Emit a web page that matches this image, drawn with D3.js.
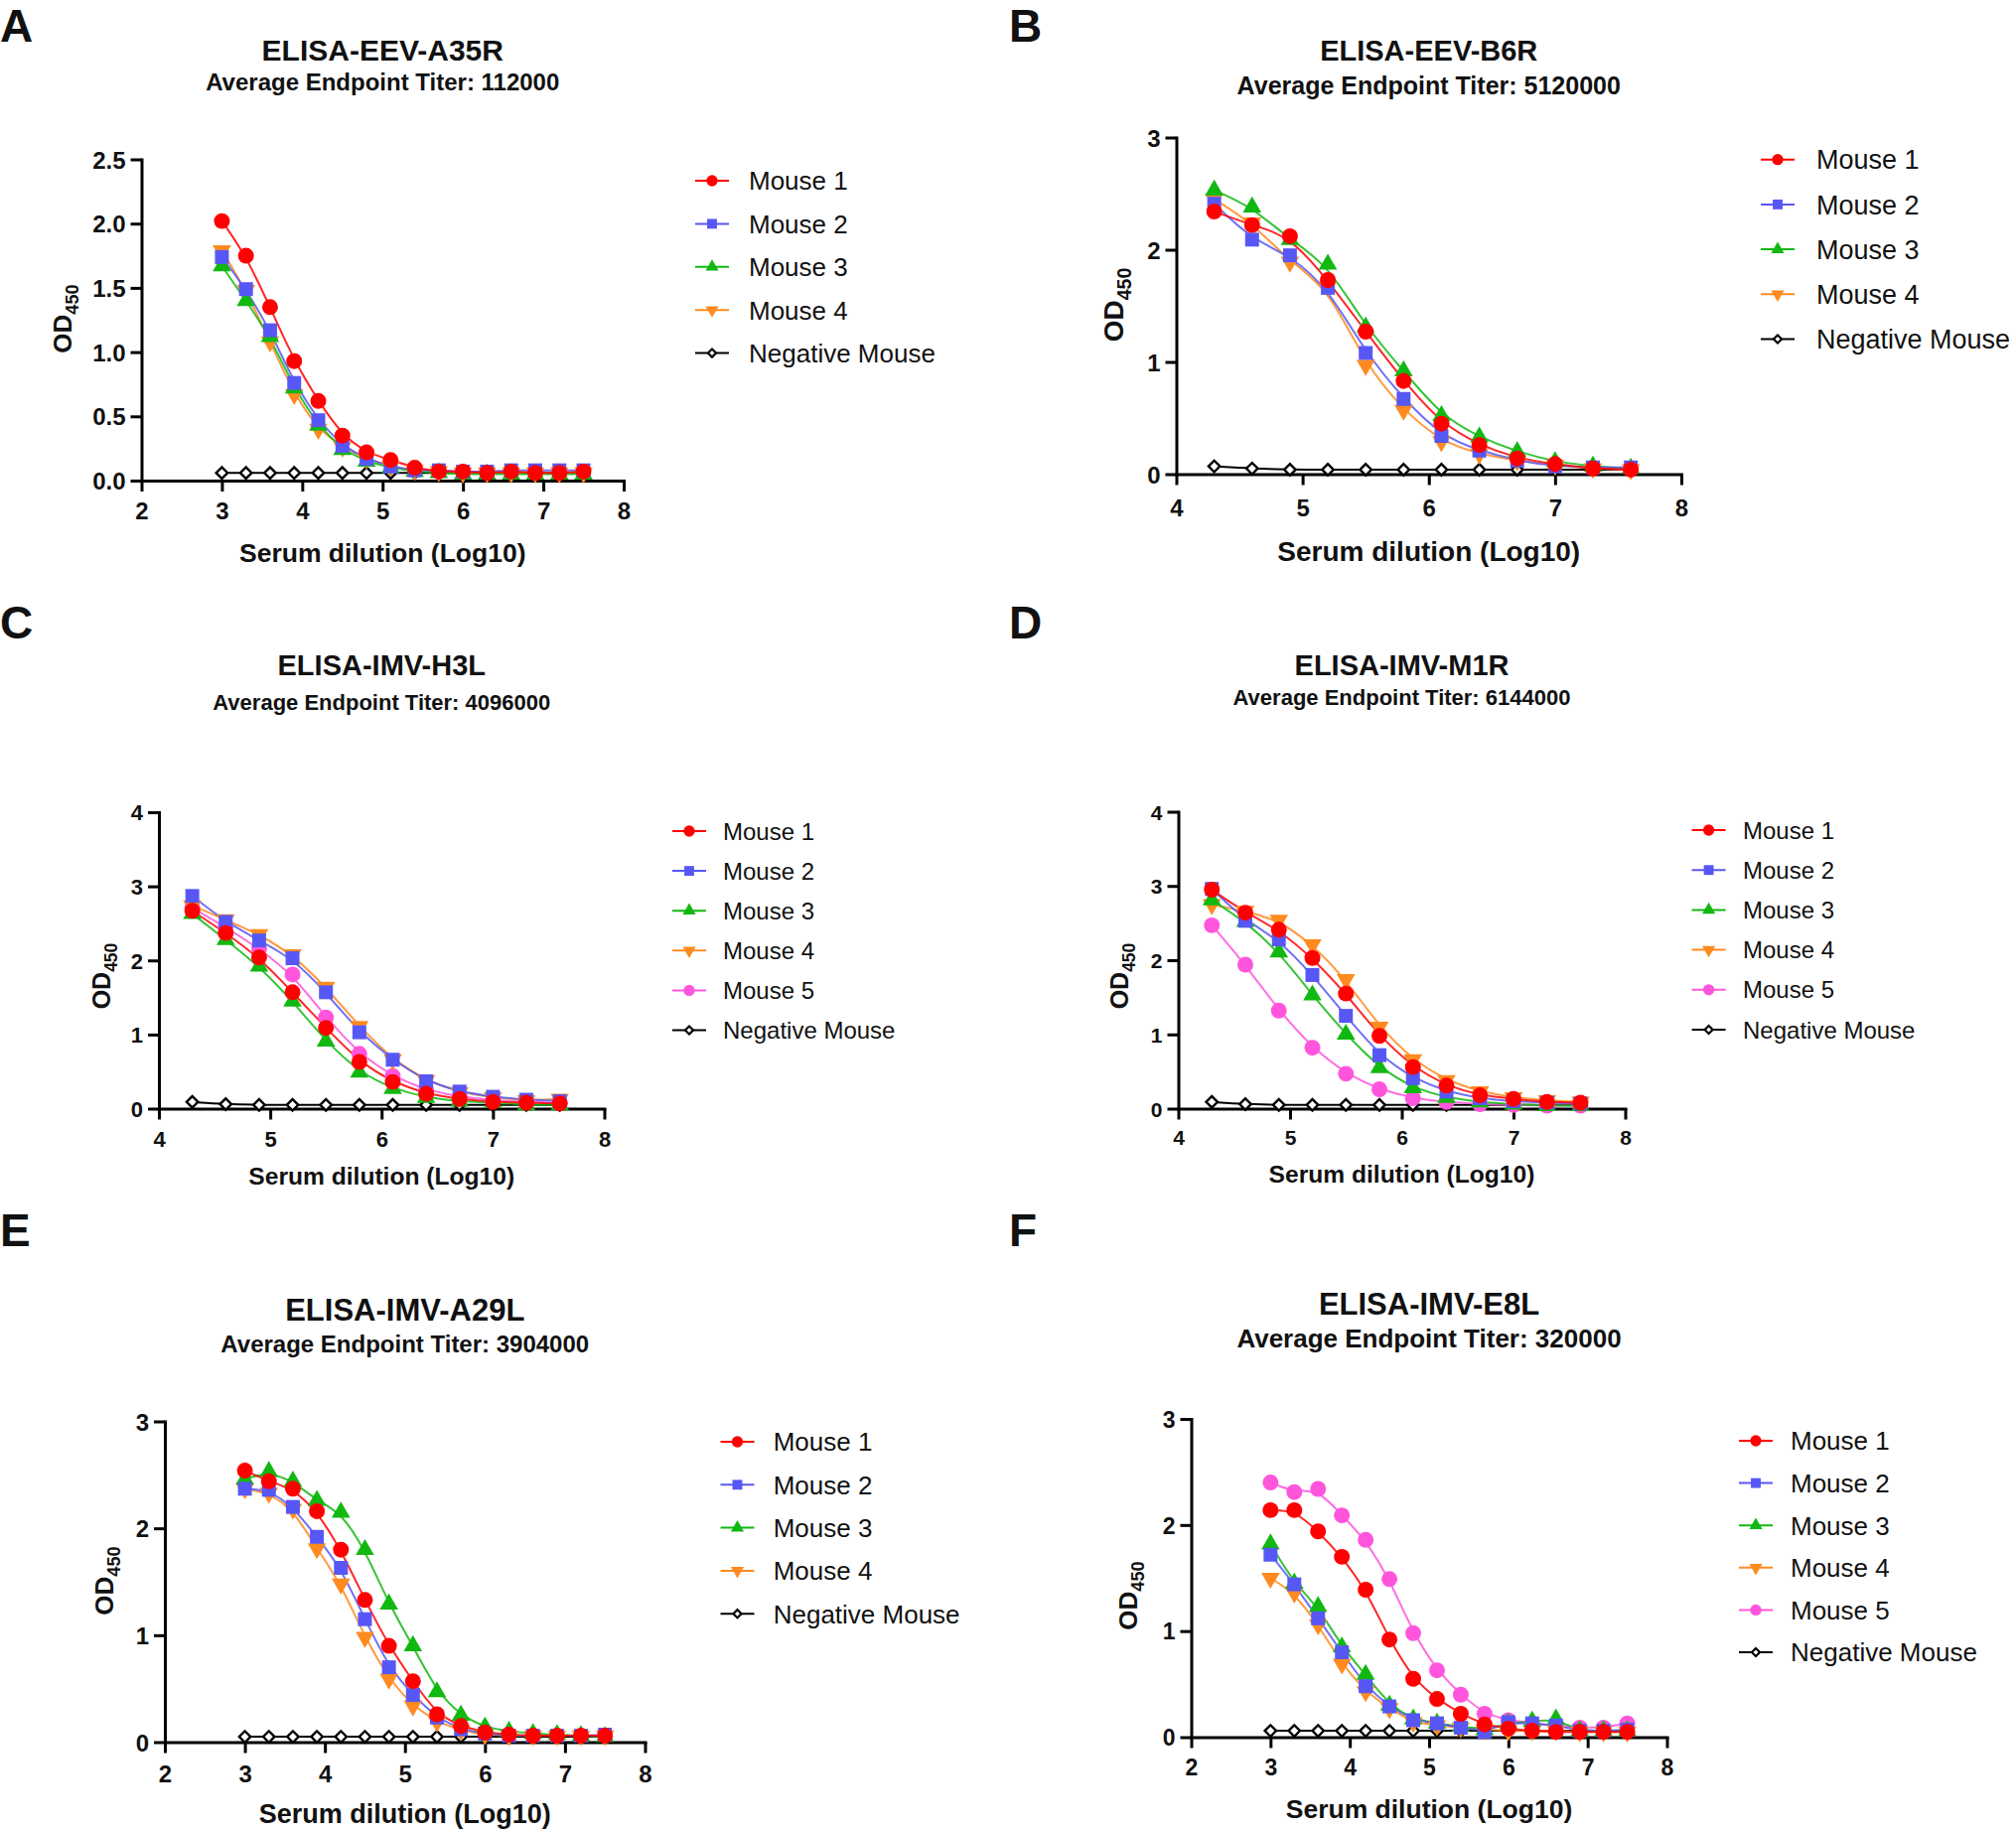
<!DOCTYPE html>
<html>
<head>
<meta charset="utf-8">
<script src="https://cdn.jsdelivr.net/npm/d3@7"></script>
<style>
  body { margin: 0; background: #fff; }
  svg { display: block; }
  text { font-family: "Liberation Sans", Arial, sans-serif; fill: #111; }
</style>
</head>
<body>
<svg id="chart"></svg>
<script>
/* data: serum dilution (log10) and OD450 per mouse */
const dilA = [3.0, 3.3, 3.6, 3.9, 4.2, 4.5, 4.8, 5.1, 5.4, 5.7, 6.0, 6.3, 6.6, 6.9, 7.2, 7.5];
const dilB = [4.3, 4.6, 4.9, 5.2, 5.5, 5.8, 6.1, 6.4, 6.7, 7.0, 7.3, 7.6];

const a35rM1 = [2.02, 1.75, 1.35, 0.93, 0.62, 0.35, 0.22, 0.16, 0.10, 0.07, 0.07, 0.06, 0.07, 0.06, 0.06, 0.07];
const a35rM2 = [1.74, 1.49, 1.17, 0.76, 0.47, 0.27, 0.17, 0.11, 0.08, 0.08, 0.07, 0.07, 0.08, 0.08, 0.08, 0.08];
const a35rM3 = [1.67, 1.40, 1.12, 0.72, 0.43, 0.24, 0.15, 0.10, 0.07, 0.06, 0.05, 0.05, 0.05, 0.05, 0.05, 0.05];
const a35rM4 = [1.79, 1.48, 1.08, 0.67, 0.40, 0.26, 0.17, 0.11, 0.08, 0.07, 0.06, 0.06, 0.06, 0.06, 0.06, 0.06];
const a35rNeg = [0.06, 0.06, 0.06, 0.06, 0.06, 0.06, 0.06, 0.06, 0.06, 0.06, 0.06, 0.06, 0.06, 0.06, 0.06, 0.06];

const b6rM1 = [2.34, 2.22, 2.12, 1.73, 1.27, 0.83, 0.45, 0.26, 0.14, 0.09, 0.05, 0.04];
const b6rM2 = [2.41, 2.09, 1.95, 1.66, 1.08, 0.67, 0.34, 0.21, 0.12, 0.07, 0.06, 0.06];
const b6rM3 = [2.53, 2.38, 2.09, 1.87, 1.31, 0.92, 0.52, 0.33, 0.20, 0.11, 0.07, 0.05];
const b6rM4 = [2.45, 2.24, 1.89, 1.67, 0.97, 0.57, 0.29, 0.18, 0.12, 0.08, 0.05, 0.04];
const b6rNeg = [0.07, 0.05, 0.04, 0.04, 0.04, 0.04, 0.04, 0.04, 0.04, 0.04, 0.04, 0.04];

const h3lM1 = [2.67, 2.37, 2.04, 1.57, 1.09, 0.63, 0.36, 0.20, 0.13, 0.09, 0.08, 0.07];
const h3lM2 = [2.87, 2.52, 2.27, 2.03, 1.57, 1.03, 0.66, 0.37, 0.23, 0.16, 0.12, 0.10];
const h3lM3 = [2.63, 2.28, 1.92, 1.45, 0.91, 0.49, 0.27, 0.15, 0.10, 0.08, 0.05, 0.05];
const h3lM4 = [2.74, 2.55, 2.35, 2.08, 1.64, 1.11, 0.66, 0.38, 0.22, 0.15, 0.11, 0.13];
const h3lM5 = [2.71, 2.45, 2.16, 1.81, 1.23, 0.74, 0.44, 0.25, 0.16, 0.11, 0.09, 0.08];
const h3lNeg = [0.09, 0.06, 0.05, 0.05, 0.05, 0.05, 0.05, 0.05, 0.05, 0.05, 0.05, 0.05];

const m1rM1 = [2.95, 2.64, 2.41, 2.03, 1.55, 0.98, 0.56, 0.31, 0.18, 0.13, 0.09, 0.08];
const m1rM2 = [2.96, 2.53, 2.28, 1.80, 1.25, 0.72, 0.41, 0.23, 0.14, 0.10, 0.08, 0.07];
const m1rM3 = [2.81, 2.52, 2.11, 1.53, 1.00, 0.55, 0.28, 0.15, 0.09, 0.06, 0.04, 0.04];
const m1rM4 = [2.75, 2.66, 2.54, 2.21, 1.74, 1.10, 0.66, 0.38, 0.23, 0.15, 0.11, 0.09];
const m1rM5 = [2.47, 1.94, 1.32, 0.82, 0.47, 0.26, 0.14, 0.09, 0.06, 0.05, 0.04, 0.04];
const m1rNeg = [0.09, 0.06, 0.05, 0.05, 0.05, 0.05, 0.05, 0.05, 0.05, 0.05, 0.05, 0.05];

const a29lM1 = [2.54, 2.44, 2.37, 2.16, 1.80, 1.33, 0.90, 0.57, 0.26, 0.15, 0.09, 0.07, 0.06, 0.06, 0.06, 0.06];
const a29lM2 = [2.37, 2.36, 2.20, 1.92, 1.63, 1.15, 0.70, 0.44, 0.23, 0.12, 0.08, 0.06, 0.06, 0.06, 0.06, 0.07];
const a29lM3 = [2.46, 2.53, 2.44, 2.26, 2.15, 1.80, 1.29, 0.90, 0.47, 0.25, 0.14, 0.10, 0.08, 0.07, 0.06, 0.05];
const a29lM4 = [2.37, 2.33, 2.18, 1.81, 1.48, 0.98, 0.59, 0.34, 0.19, 0.11, 0.07, 0.06, 0.06, 0.06, 0.06, 0.06];
const a29lNeg = [0.05, 0.05, 0.05, 0.05, 0.05, 0.05, 0.05, 0.05, 0.05, 0.05, 0.05, 0.05, 0.05, 0.05, 0.05, 0.05];

const e8lM1 = [2.14, 2.14, 1.94, 1.70, 1.39, 0.92, 0.55, 0.36, 0.22, 0.12, 0.08, 0.06, 0.05, 0.05, 0.05, 0.05];
const e8lM2 = [1.72, 1.44, 1.12, 0.80, 0.48, 0.29, 0.16, 0.13, 0.09, 0.05, 0.14, 0.13, 0.11, 0.06, 0.06, 0.07];
const e8lM3 = [1.82, 1.45, 1.23, 0.85, 0.59, 0.30, 0.17, 0.13, 0.10, 0.07, 0.13, 0.15, 0.17, 0.06, 0.06, 0.06];
const e8lM4 = [1.50, 1.36, 1.06, 0.69, 0.43, 0.27, 0.14, 0.11, 0.09, 0.07, 0.06, 0.06, 0.06, 0.05, 0.05, 0.05];
const e8lM5 = [2.40, 2.31, 2.34, 2.09, 1.86, 1.49, 0.98, 0.63, 0.40, 0.22, 0.16, 0.13, 0.11, 0.09, 0.09, 0.13];
const e8lNeg = [0.06, 0.06, 0.06, 0.06, 0.06, 0.06, 0.06, 0.06, 0.06, 0.06, 0.06, 0.06, 0.06, 0.06, 0.06, 0.06];

const names4 = ["Mouse 1", "Mouse 2", "Mouse 3", "Mouse 4", "Negative Mouse"];
const names5 = ["Mouse 1", "Mouse 2", "Mouse 3", "Mouse 4", "Mouse 5", "Negative Mouse"];

const panelLetters = ["A", "B", "C", "D", "E", "F"];
const panelTitles = ["ELISA-EEV-A35R", "ELISA-EEV-B6R", "ELISA-IMV-H3L", "ELISA-IMV-M1R", "ELISA-IMV-A29L", "ELISA-IMV-E8L"];
const panelTiters = ["112000", "5120000", "4096000", "6144000", "3904000", "320000"];
const xDomains = [[2, 8], [4, 8], [4, 8], [4, 8], [2, 8], [2, 8]];
const yDomains = [[0, 2.5], [0, 3], [0, 4], [0, 4], [0, 3], [0, 3]];
const xTickValues = [[2, 3, 4, 5, 6, 7, 8], [4, 5, 6, 7, 8], [4, 5, 6, 7, 8], [4, 5, 6, 7, 8], [2, 3, 4, 5, 6, 7, 8], [2, 3, 4, 5, 6, 7, 8]];
const yTickValues = [[0, 0.5, 1, 1.5, 2, 2.5], [0, 1, 2, 3], [0, 1, 2, 3, 4], [0, 1, 2, 3, 4], [0, 1, 2, 3], [0, 1, 2, 3]];

/* styles per series (index = series position), negative mouse handled separately */
const mouseColors = ["#ff0000", "#5757f5", "#12b812", "#ff8a1f", "#ff55dc"];
const mouseShapes = ["circle", "square", "triangle", "down", "circle"];

const panelData = [
  { x: dilA, names: names4, ys: [a35rM1, a35rM2, a35rM3, a35rM4, a35rNeg] },
  { x: dilB, names: names4, ys: [b6rM1, b6rM2, b6rM3, b6rM4, b6rNeg] },
  { x: dilB, names: names5, ys: [h3lM1, h3lM2, h3lM3, h3lM4, h3lM5, h3lNeg] },
  { x: dilB, names: names5, ys: [m1rM1, m1rM2, m1rM3, m1rM4, m1rM5, m1rNeg] },
  { x: dilA, names: names4, ys: [a29lM1, a29lM2, a29lM3, a29lM4, a29lNeg] },
  { x: dilA, names: names5, ys: [e8lM1, e8lM2, e8lM3, e8lM4, e8lM5, e8lNeg] }
];

const layouts = [
  { lx: 0, ly: 42, titleY: 60.5, titleSize: 30, subY: 91, subSize: 24,
    x0: 142.5, x1: 628, y0: 484, y1: 160.5, tick: 24, tickY: 523, yFmt: ".1f",
    xtY: 566, xtSize: 26.5, ytX: 65, ytY: 321, ytSize: 26,
    legX: 717, legText: 754, legY: 182, legStep: 43.4, legSize: 26 },
  { lx: 1016, ly: 42, titleY: 61, titleSize: 29, subY: 95, subSize: 25,
    x0: 1184.5, x1: 1693, y0: 477.5, y1: 138.5, tick: 24, tickY: 520, yFmt: "d",
    xtY: 564.5, xtSize: 28, ytX: 1124, ytY: 307, ytSize: 28,
    legX: 1790, legText: 1829, legY: 160.7, legStep: 45.2, legSize: 27 },
  { lx: 0, ly: 643, titleY: 680, titleSize: 29, subY: 715, subSize: 22,
    x0: 160, x1: 608.5, y0: 1116.5, y1: 818, tick: 22, tickY: 1155, yFmt: "d",
    xtY: 1193, xtSize: 24.6, ytX: 105, ytY: 983, ytSize: 25,
    legX: 694, legText: 728, legY: 837, legStep: 40.1, legSize: 24 },
  { lx: 1016, ly: 643, titleY: 680, titleSize: 29, subY: 710, subSize: 22,
    x0: 1186.5, x1: 1636.5, y0: 1116.5, y1: 817.5, tick: 21, tickY: 1153, yFmt: "d",
    xtY: 1191, xtSize: 24.6, ytX: 1130, ytY: 983, ytSize: 25,
    legX: 1720.6, legText: 1755, legY: 836, legStep: 40.2, legSize: 24 },
  { lx: 0, ly: 1255, titleY: 1330, titleSize: 31, subY: 1362, subSize: 24,
    x0: 166, x1: 649.5, y0: 1754.5, y1: 1431.5, tick: 24, tickY: 1795, yFmt: "d",
    xtY: 1836, xtSize: 27, ytX: 107, ytY: 1592, ytSize: 26,
    legX: 742.5, legText: 778.7, legY: 1452, legStep: 43.3, legSize: 26 },
  { lx: 1016, ly: 1255, titleY: 1324, titleSize: 31, subY: 1357, subSize: 26,
    x0: 1199.5, x1: 1678.5, y0: 1749.5, y1: 1429, tick: 23, tickY: 1788, yFmt: "d",
    xtY: 1831, xtSize: 26.5, ytX: 1138, ytY: 1607, ytSize: 26,
    legX: 1768, legText: 1803, legY: 1451, legStep: 42.6, legSize: 26 }
];

const W = 2030, H = 1842;
const svg = d3.select("#chart").attr("width", W).attr("height", H);

function symbolPath(shape, scale) {
  if (shape === "circle") return d3.symbol(d3.symbolCircle, 200 * scale)();
  if (shape === "square") return d3.symbol(d3.symbolSquare, 195 * scale)();
  if (shape === "triangle" || shape === "down") return d3.symbol(d3.symbolTriangle, 150 * scale)();
  return d3.symbol(d3.symbolSquare, 66 * scale)(); // diamond = rotated square
}
function symbolRot(shape) {
  if (shape === "down") return 180;
  if (shape === "diamond") return 45;
  return 0;
}

function drawPanel(i) {
  const L = layouts[i], D = panelData[i];
  const g = svg.append("g");
  const cx = (L.x0 + L.x1) / 2;

  g.append("text").attr("x", L.lx).attr("y", L.ly)
    .attr("font-size", 46).attr("font-weight", "bold").text(panelLetters[i]);
  g.append("text").attr("x", cx).attr("y", L.titleY).attr("text-anchor", "middle")
    .attr("font-size", L.titleSize).attr("font-weight", "bold").text(panelTitles[i]);
  g.append("text").attr("x", cx).attr("y", L.subY).attr("text-anchor", "middle")
    .attr("font-size", L.subSize).attr("font-weight", "bold")
    .text("Average Endpoint Titer: " + panelTiters[i]);

  const x = d3.scaleLinear().domain(xDomains[i]).range([L.x0, L.x1]);
  const y = d3.scaleLinear().domain(yDomains[i]).range([L.y0, L.y1]);

  // axes
  const xAxis = g.append("g").attr("transform", `translate(0,${L.y0})`)
    .call(d3.axisBottom(x).tickValues(xTickValues[i]).tickSize(11).tickSizeOuter(0).tickFormat(d3.format("d")));
  const yAxis = g.append("g").attr("transform", `translate(${L.x0},0)`)
    .call(d3.axisLeft(y).tickValues(yTickValues[i]).tickSize(11).tickSizeOuter(0).tickFormat(d3.format(L.yFmt)));
  [xAxis, yAxis].forEach(a => {
    a.select(".domain").attr("stroke", "#000").attr("stroke-width", 3).attr("stroke-linecap", "square");
    a.selectAll(".tick line").attr("stroke", "#000").attr("stroke-width", 3);
    a.selectAll(".tick text").attr("font-size", L.tick).attr("font-weight", "bold")
      .attr("font-family", '"Liberation Sans", Arial, sans-serif').attr("fill", "#111");
  });
  xAxis.selectAll(".tick text").attr("dy", null).attr("y", L.tickY - L.y0);
  yAxis.selectAll(".tick text").attr("x", -16).attr("dy", "0.36em");

  g.append("text").attr("x", cx).attr("y", L.xtY).attr("text-anchor", "middle")
    .attr("font-size", L.xtSize).attr("font-weight", "bold").text("Serum dilution (Log10)");

  const yt = g.append("text")
    .attr("transform", `translate(${L.ytX + L.ytSize * 0.25},${L.ytY}) rotate(-90)`)
    .attr("text-anchor", "middle").attr("font-size", L.ytSize).attr("font-weight", "bold");
  yt.append("tspan").text("OD");
  yt.append("tspan").attr("font-size", L.ytSize * 0.7).attr("dy", L.ytSize * 0.28).text("450");

  // series
  const nMice = D.ys.length - 1;
  const series = D.ys.map((vals, k) => {
    const neg = k === nMice;
    return {
      name: D.names[k],
      color: neg ? "#000" : mouseColors[k],
      shape: neg ? "diamond" : mouseShapes[k],
      neg: neg,
      pts: vals.map((v, j) => [D.x[j], v])
    };
  });
  const order = series.slice().reverse(); // negative first, mouse 1 on top

  const line = d3.line().x(d => x(d[0])).y(d => y(d[1])).curve(d3.curveBasis);
  g.append("g").selectAll("path").data(order).join("path")
    .attr("d", s => line(s.pts)).attr("fill", "none")
    .attr("stroke", s => s.color).attr("stroke-width", 2).attr("stroke-opacity", s => s.neg ? 1 : 0.85);

  order.forEach(s => {
    g.append("g").selectAll("path").data(s.pts).join("path")
      .attr("d", symbolPath(s.shape, 1))
      .attr("transform", d => `translate(${x(d[0])},${y(d[1])}) rotate(${symbolRot(s.shape)})`)
      .attr("fill", s.neg ? "#fff" : s.color)
      .attr("stroke", s.neg ? "#000" : "none")
      .attr("stroke-width", s.neg ? 2.4 : 0);
  });

  // legend
  const leg = g.append("g");
  series.forEach((s, k) => {
    const ry = L.legY + k * L.legStep;
    leg.append("line").attr("x1", L.legX - 17).attr("x2", L.legX + 17).attr("y1", ry).attr("y2", ry)
      .attr("stroke", s.color).attr("stroke-width", 2);
    leg.append("path").attr("d", symbolPath(s.shape, 0.5))
      .attr("transform", `translate(${L.legX},${ry}) rotate(${symbolRot(s.shape)})`)
      .attr("fill", s.neg ? "#fff" : s.color)
      .attr("stroke", s.neg ? "#000" : "none").attr("stroke-width", s.neg ? 2.2 : 0);
    leg.append("text").attr("x", L.legText).attr("y", ry + L.legSize * 0.36)
      .attr("font-size", L.legSize).attr("fill", "#1a1a1a").text(s.name);
  });
}

for (let i = 0; i < 6; i++) drawPanel(i);
</script>
</body>
</html>
